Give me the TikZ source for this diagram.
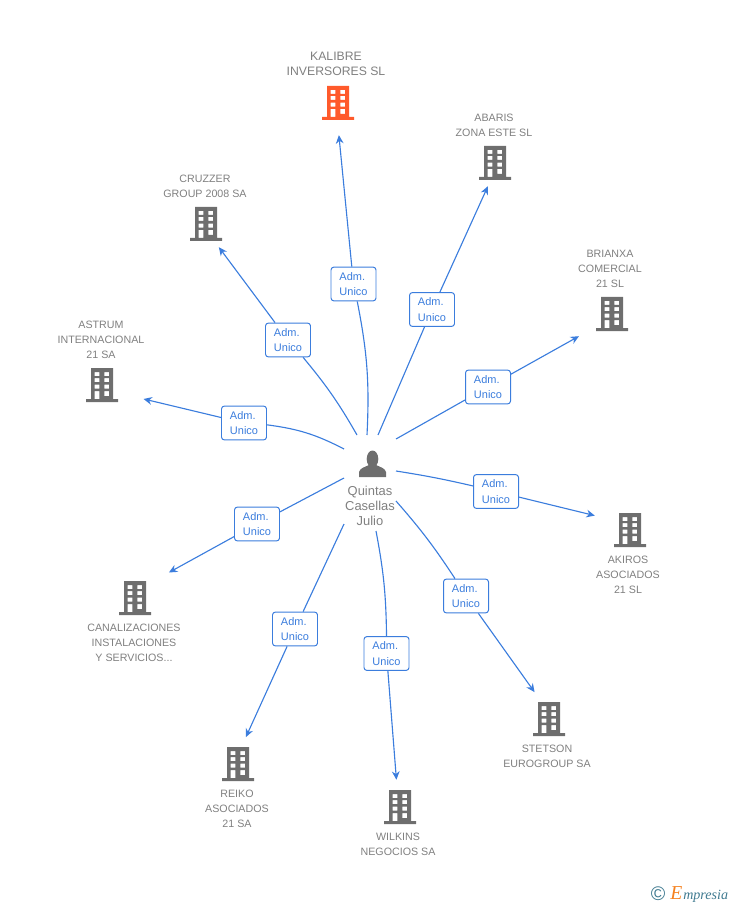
\documentclass[tikz,border=0pt]{standalone}
\usepackage{fontspec}
\setmainfont{Liberation Sans}
\newfontfamily\logofont{Liberation Serif}
\usetikzlibrary{arrows.meta}

\definecolor{linkblue}{HTML}{3B7DDD}
\definecolor{bldgray}{HTML}{6E6E6E}
\definecolor{txtgray}{HTML}{808080}
\definecolor{bldorange}{HTML}{FF5A2B}
\definecolor{logoteal}{HTML}{3F7A90}
\definecolor{logoorange}{HTML}{F58220}

\tikzset{
  link/.style={color=linkblue,line width=.8pt},
  linkarrow/.style={link,-{Stealth[length=6pt,width=5.5pt]}},
  admbox/.style={draw=linkblue,line width=.7pt,fill=white,rounded corners=2pt,
    minimum width=32pt,minimum height=24pt,inner sep=0pt,align=left,
    text=linkblue,font=\fontsize{7.8}{10.8}\selectfont},
  bldg/.style={minimum width=45.4pt,minimum height=32.6pt,inner sep=0pt},
  cotxt/.style={align=center,text=txtgray,inner sep=0pt,
    font=\fontsize{7.6}{10.6}\selectfont},
  persontxt/.style={align=center,text=txtgray,inner sep=0pt,
    font=\fontsize{9.2}{10.6}\selectfont},
  bldgicon/.pic={
    \fill[pic actions,even odd rule]
      (-11,-17) rectangle (11,14) (-16,14) rectangle (16,17)
      (-7.3,-13) rectangle (-2.7,-9) (2.3,-13) rectangle (7,-9)
      (-7.3,-7) rectangle (-2.7,-3) (2.3,-7) rectangle (7,-3)
      (-7.3,-.3) rectangle (-2.7,3.7) (2.3,-.3) rectangle (7,3.7)
      (2.3,6) rectangle (7,11) (-7.3,6) rectangle (-2.7,14);
  }
}

\begin{document}
\begin{tikzpicture}[x=.025cm,y=-.025cm]
\useasboundingbox (0,0) rectangle (728,905);

% Buildings
\foreach \nm/\x/\y in {abaris/495/163,cruzzer/206/224,brianxa/612/314,astrum/102/385,
    akiros/630/530,canaliz/135/598,stetson/549/719,reiko/238/764,wilkins/400/807} {
  \node[bldg] (\nm) at (\x,\y) {};
  \pic[fill=bldgray] at (\x,\y) {bldgicon};
}
\node[bldg] (kalibre) at (338,103) {};
\pic[fill=bldorange] at (338,103) {bldgicon};

% Company names
\node[cotxt,font=\fontsize{8.7}{10.6}\selectfont] (tkalibre) at (336,64) {KALIBRE\\INVERSORES SL};
\node[cotxt] (tabaris) at (494,125.5) {ABARIS\\ZONA ESTE SL};
\node[cotxt] (tcruzzer) at (205,186.5) {CRUZZER\\GROUP 2008 SA};
\node[cotxt] (tbrianxa) at (610,269) {BRIANXA\\COMERCIAL\\21 SL};
\node[cotxt] (tastrum) at (101,340) {ASTRUM\\INTERNACIONAL\\21 SA};
\node[cotxt] (takiros) at (628,575) {AKIROS\\ASOCIADOS\\21 SL};
\node[cotxt] (tcanaliz) at (134,643) {CANALIZACIONES\\INSTALACIONES\\Y SERVICIOS...};
\node[cotxt] (tstetson) at (547,756.5) {STETSON\\EUROGROUP SA};
\node[cotxt] (treiko) at (237,809) {REIKO\\ASOCIADOS\\21 SA};
\node[cotxt] (twilkins) at (398,844.5) {WILKINS\\NEGOCIOS SA};

% Person in the middle
\fill[bldgray] (372.5,459) ellipse (5.8 and 8.5);
\fill[bldgray] (359,477) -- (359,472) .. controls (360,468) and (365,467) .. (369,465)
  -- (376,465) .. controls (380,467) and (385,468) .. (386,472) -- (386,477) -- cycle;
\node[persontxt] (person) at (370,506) {Quintas\\Casellas\\Julio};

% Line ends around the person
\foreach \nm/\x/\y in {skalibre/367/435,sabaris/378/435,sbrianxa/396/439,sakiros/396/471,
    sstetson/396/501,swilkins/376/531,sreiko/344/524,scanaliz/344/478,sastrum/344/449,
    scruzzer/357/435} {
  \coordinate (\nm) at (\x,\y);
}

% Adm. Unico boxes
\foreach \nm/\x/\y in {akalibre/353.5/284,aabaris/432/309.5,abrianxa/488/387,aakiros/496/491.5,
    astetson/466/596,awilkins/386.5/653.5,areiko/295/629,acanaliz/257/524,aastrum/244/423,
    acruzzer/288/340} {
  \node[admbox] (\nm) at (\x,\y) {Adm.\\Unico};
}

% Person to box
\draw[link] (skalibre) to[bend right=7] (akalibre);
\draw[link] (sabaris) -- (aabaris);
\draw[link] (sbrianxa) -- (abrianxa);
\draw[link] (sakiros) to[bend left=2] (aakiros);
\draw[link] (sstetson) to[bend left=4] (astetson);
\draw[link] (swilkins) to[bend left=5] (awilkins);
\draw[link] (sreiko) -- (areiko);
\draw[link] (scanaliz) -- (acanaliz);
\draw[link] (sastrum) to[bend right=10] (aastrum);
\draw[link] (scruzzer) to[bend right=5] (acruzzer);

% Box to building
\foreach \nm/\ang/\gap in {kalibre/270/6.4,abaris/253/0,brianxa/214/.7,akiros/157/2.2,
    stetson/117/3.2,wilkins/98/2.9,reiko/75/2.9,canaliz/38/3.4,astrum/-20/6.8,cruzzer/-61/0} {
  \draw[linkarrow,shorten >=\gap pt] (a\nm) -- (\nm.\ang);
}

% Logo
\node[text=logoteal,inner sep=0pt,font=\fontsize{14}{14}\selectfont] (logoc) at (658,894) {©};
\node[anchor=base west,inner sep=0pt,text=logoorange,font=\logofont\itshape\fontsize{14}{14}\selectfont] (logoe) at (670,899) {E};
\node[anchor=base west,inner sep=0pt,text=logoteal,font=\logofont\itshape\fontsize{10}{10}\selectfont] (logot) at (683,899) {mpresia};

\end{tikzpicture}
\end{document}
